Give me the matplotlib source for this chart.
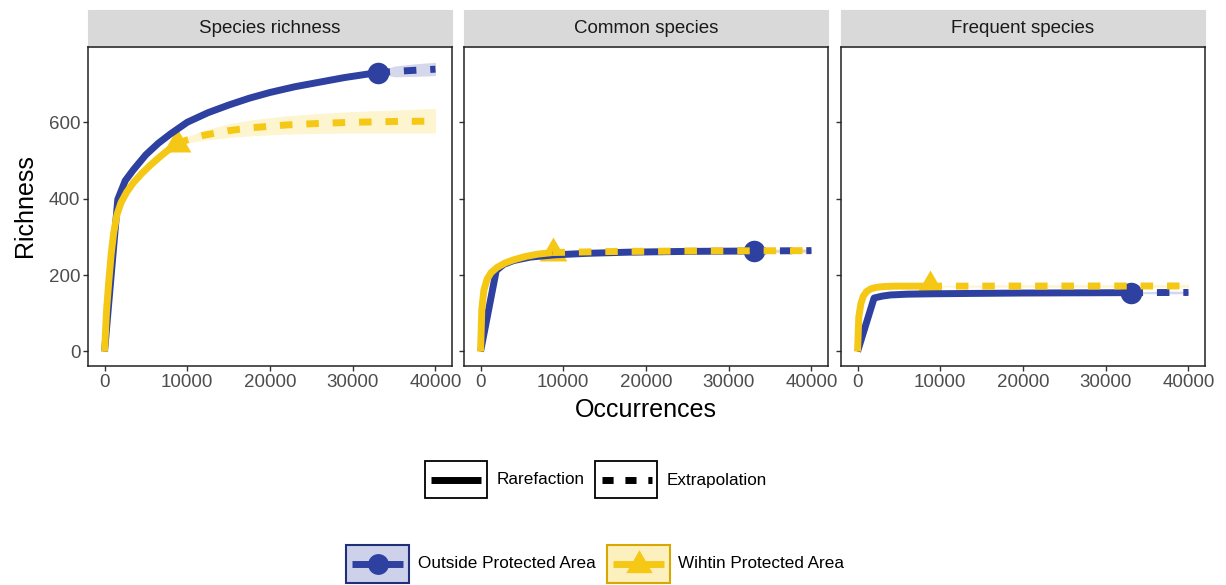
import matplotlib
matplotlib.use("Agg")
import matplotlib.pyplot as plt
from matplotlib.patches import Rectangle

plt.rcParams['font.family'] = ['Liberation Sans', 'DejaVu Sans']

# facet titles
panels = ["Species richness", "Common species", "Frequent species"]

# Outside protected area (blue): rarefaction, extrapolation, observed point
out_rare_x = [[0, 1600, 2500, 3500, 5000, 6500, 8000, 10000, 12500, 15000, 17500, 20000, 23000, 26000, 29000, 33000],
              [0, 1900, 2800, 4000, 6000, 9000, 13000, 18000, 25000, 33000],
              [0, 2000, 3000, 4000, 6000, 9000, 14000, 20000, 26000, 33000]]
out_rare_y = [[0, 398, 447, 476, 515, 545, 570, 600, 625, 645, 663, 678, 693, 705, 717, 730],
              [0, 212, 228, 238, 247, 253, 257, 260, 262, 263],
              [0, 140, 145, 148, 150, 151, 152, 153, 153.5, 154]]
out_ext_x = [[33000, 35000, 37500, 40000],
             [33000, 36500, 40000],
             [33000, 36500, 40000]]
out_ext_y = [[730, 733, 736, 739],
             [263, 263.5, 264],
             [154, 154.3, 154.5]]
out_ext_lo = [[728, 719, 720, 722],
              [261, 260, 260],
              [152, 151, 151]]
out_ext_hi = [[732, 747, 753, 757],
              [265, 267, 268],
              [156, 157.5, 158]]
out_obs = [(33000, 730), (33000, 263), (33000, 154)]

# Within protected area (yellow)
in_rare_x = [[0, 250, 500, 800, 1100, 1500, 2000, 2700, 3500, 4500, 5500, 6500, 7500, 8700],
             [0, 150, 400, 800, 1300, 2000, 3000, 4000, 5500, 7000, 8700],
             [0, 150, 400, 700, 1100, 1600, 2300, 3200, 4500, 6500, 8700]]
in_rare_y = [[0, 110, 180, 255, 310, 358, 390, 418, 442, 466, 487, 506, 524, 543],
             [0, 110, 160, 190, 207, 220, 232, 240, 249, 255, 259],
             [0, 90, 125, 145, 157, 164, 168, 170, 171, 171, 171]]
in_ext_x = [[8700, 10000, 12000, 15000, 18000, 22000, 26000, 30000, 35000, 40000],
            [8700, 15000, 25000, 40000],
            [8700, 20000, 40000]]
in_ext_y = [[543, 554, 566, 578, 586, 593, 597, 600, 602, 603],
            [259, 261.5, 263, 264],
            [171, 171.3, 171.5]]
in_ext_lo = [[541, 546, 553, 560, 565, 569, 571, 572, 572, 572],
             [257, 258, 258, 258],
             [169, 168, 168]]
in_ext_hi = [[545, 562, 579, 596, 607, 617, 623, 628, 632, 636],
             [261, 265, 268, 270],
             [173, 175, 175]]
in_obs = [(8700, 543), (8700, 259), (8700, 171)]

x_ticks = [0, 10000, 20000, 30000, 40000]
y_ticks = [0, 200, 400, 600]

blue = "#2E40A0"
yellow = "#F5C815"
# R-style filled triangle (centroid on the point)
tri = [(0, 1), (-0.866, -0.5), (0.866, -0.5)]

W, H = 1226, 585
fig = plt.figure(figsize=(W / 100, H / 100), dpi=100)

lefts = [88, 464, 841]
pw, top, bottom = 364, 47, 366
strip_h = 37

for i, name in enumerate(panels):
    ax = fig.add_axes([lefts[i] / W, 1 - bottom / H, pw / W, (bottom - top) / H])
    ax.set_xlim(-2000, 42000)
    ax.set_ylim(-38, 797)

    ax.fill_between(out_ext_x[i], out_ext_lo[i], out_ext_hi[i], color=blue, alpha=0.2, lw=0, zorder=1)
    ax.fill_between(in_ext_x[i], in_ext_lo[i], in_ext_hi[i], color=yellow, alpha=0.2, lw=0, zorder=1)

    ax.plot(*out_obs[i], marker='o', ms=15.5, color=blue, mec='none', zorder=3)
    ax.plot(*in_obs[i], marker=tri, ms=23, color=yellow, mec='none', zorder=3)

    ax.plot(out_rare_x[i], out_rare_y[i], color=blue, lw=5, solid_capstyle='butt',
            solid_joinstyle='round', zorder=4)
    ax.plot(out_ext_x[i], out_ext_y[i], color=blue, lw=5, dashes=(1.8, 2.0),
            dash_capstyle='butt', zorder=4)
    ax.plot(in_rare_x[i], in_rare_y[i], color=yellow, lw=5, solid_capstyle='butt',
            solid_joinstyle='round', zorder=5)
    ax.plot(in_ext_x[i], in_ext_y[i], color=yellow, lw=5, dashes=(1.8, 2.0),
            dash_capstyle='butt', zorder=5)

    ax.set_xticks(x_ticks)
    ax.set_xticklabels([str(v) for v in x_ticks])
    ax.set_yticks(y_ticks)
    if i == 0:
        ax.set_yticklabels([str(v) for v in y_ticks])
    else:
        ax.set_yticklabels([])
    ax.tick_params(length=3.5, width=1, color="#333333", labelcolor="#4D4D4D",
                   labelsize=13.5, pad=2)
    for s in ax.spines.values():
        s.set_color("#222222")
        s.set_linewidth(1.1)

    # facet strip
    sh = strip_h / (bottom - top)
    ax.add_patch(Rectangle((0, 1), 1, sh, transform=ax.transAxes, clip_on=False,
                           fc="#D9D9D9", ec="#D9D9D9", lw=0.8))
    ax.text(0.5, 1 + sh / 2, name, transform=ax.transAxes, ha='center', va='center',
            fontsize=13.5, color="#1A1A1A")

fig.text(25 / W, 1 - 206 / H, "Richness", rotation=90, ha='center', va='center', fontsize=18)
fig.text(646 / W, 1 - 410 / H, "Occurrences", ha='center', va='center', fontsize=18)

# legends drawn in pixel space (y axis runs downward here)
lg = fig.add_axes([0, 0, 1, 1])
lg.set_xlim(0, W)
lg.set_ylim(H, 0)
lg.axis('off')

lg.add_patch(Rectangle((425, 461), 62, 37, fc='white', ec='black', lw=1.3))
lg.plot([431, 481], [479.5, 479.5], color='black', lw=5, solid_capstyle='butt')
lg.text(497, 480, "Rarefaction", va='center', fontsize=12.3)
lg.add_patch(Rectangle((595, 461), 62, 37, fc='white', ec='black', lw=1.3))
lg.plot([602, 652], [479.5, 479.5], color='black', lw=5, dashes=(1.6, 1.7), dash_capstyle='butt')
lg.text(667, 480, "Extrapolation", va='center', fontsize=12.3)

lg.add_patch(Rectangle((346, 545), 63, 38, fc="#CDD2EA", ec="#1F2F7A", lw=1.5))
lg.plot([352, 403], [564, 564], color=blue, lw=5, solid_capstyle='butt')
lg.plot(377.5, 564, marker='o', ms=15, color=blue, mec='none')
lg.text(418, 564, "Outside Protected Area", va='center', fontsize=12.3)
lg.add_patch(Rectangle((607, 545), 63, 38, fc="#FCF0BE", ec="#D9A800", lw=1.5))
lg.plot([613, 664], [564, 564], color=yellow, lw=5, solid_capstyle='butt')
lg.plot(638.5, 565, marker=tri, ms=22, color=yellow, mec='none')
lg.text(678, 564, "Wihtin Protected Area", va='center', fontsize=12.3)

fig.savefig("out.png", dpi=100)
